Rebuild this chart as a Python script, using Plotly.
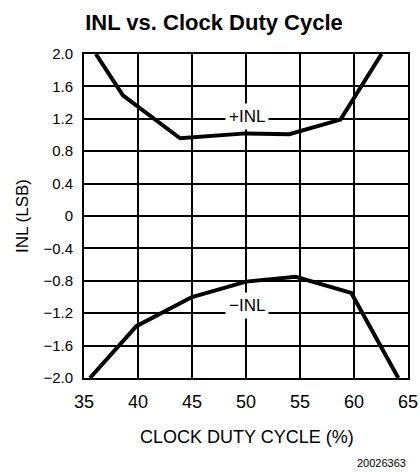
import plotly.graph_objects as go

# Data
pos_x = [36.1, 38.3, 38.6, 43.9, 50.0, 54.0, 58.75, 62.55]
pos_inl = [2.0, 1.56, 1.49, 0.96, 1.02, 1.01, 1.19, 2.0]

neg_x = [35.55, 39.85, 45.0, 50.0, 54.6, 59.75, 64.1]
neg_inl = [-2.0, -1.36, -1.0, -0.81, -0.75, -0.95, -2.0]

x_ticks = [35, 40, 45, 50, 55, 60, 65]
x_ticktext = ["35", "40", "45", "50", "55", "60", "65"]
y_ticks = [2.0, 1.6, 1.2, 0.8, 0.4, 0, -0.4, -0.8, -1.2, -1.6, -2.0]
y_ticktext = ["2.0", "1.6", "1.2", "0.8", "0.4", "0", "\u22120.4", "\u22120.8",
              "\u22121.2", "\u22121.6", "\u22122.0"]

labels = [("+INL", 50.07, 1.23), ("\u2212INL", 50.05, -1.1)]

stroke_font = "Liberation Sans Narrow, Liberation Sans, Arial, sans-serif"
sans = "Liberation Sans, Arial, Helvetica, sans-serif"

fig = go.Figure()
fig.add_trace(go.Scatter(x=pos_x, y=pos_inl, mode="lines",
                         line=dict(color="black", width=4), showlegend=False,
                         hoverinfo="skip"))
fig.add_trace(go.Scatter(x=neg_x, y=neg_inl, mode="lines",
                         line=dict(color="black", width=4), showlegend=False,
                         hoverinfo="skip"))

for text, lx, ly in labels:
    fig.add_annotation(x=lx, y=ly, text=text, showarrow=False,
                       font=dict(family=stroke_font, size=17, color="black"),
                       bgcolor="white", borderpad=3)

# footer id
fig.add_annotation(x=1.0, xref="paper", xanchor="right", y=(378 - 463) / 324, yref="paper",
                   yanchor="middle", text="20026363", showarrow=False,
                   font=dict(family=sans, size=11, color="black"))
# axis titles as annotations for exact placement
fig.add_annotation(x=(247 - 84) / 324, xref="paper", xanchor="center",
                   y=(378 - 437) / 324, yref="paper", yanchor="middle",
                   text="CLOCK DUTY CYCLE (%)", showarrow=False,
                   font=dict(family=stroke_font, size=18, color="black"))
fig.add_annotation(x=(22 - 84) / 324, xref="paper", xanchor="center",
                   y=0.5, yref="paper", yanchor="middle", textangle=-90,
                   text="INL (LSB)", showarrow=False,
                   font=dict(family=stroke_font, size=17, color="black"))

fig.update_layout(
    width=420, height=472,
    margin=dict(l=84, r=12, t=54, b=94, autoexpand=False),
    paper_bgcolor="white", plot_bgcolor="white",
    title=dict(text="<b>INL vs. Clock Duty Cycle</b>", x=214/420, xanchor="center",
               y=1 - 22/472, yanchor="middle",
               font=dict(family=sans, size=22, color="black")),
    xaxis=dict(range=[35, 65], tickvals=x_ticks, ticktext=x_ticktext,
               showgrid=True, gridcolor="black", gridwidth=1.5,
               showline=True, linecolor="black", linewidth=2, mirror=True,
               zeroline=False, ticks="", ticklen=0, automargin=False,
               ticklabelstandoff=6,
               tickfont=dict(family=stroke_font, size=18, color="black")),
    yaxis=dict(range=[-2, 2], tickvals=y_ticks, ticktext=y_ticktext,
               showgrid=True, gridcolor="black", gridwidth=1.5,
               showline=True, linecolor="black", linewidth=2, mirror=True,
               zeroline=False, ticks="", ticklen=0, automargin=False,
               ticklabelstandoff=6,
               tickfont=dict(family=sans, size=15, color="black")),
)

fig.write_html("out.html", config={"displayModeBar": False},
               post_script="document.body.style.margin='0';document.body.style.padding='0';")
